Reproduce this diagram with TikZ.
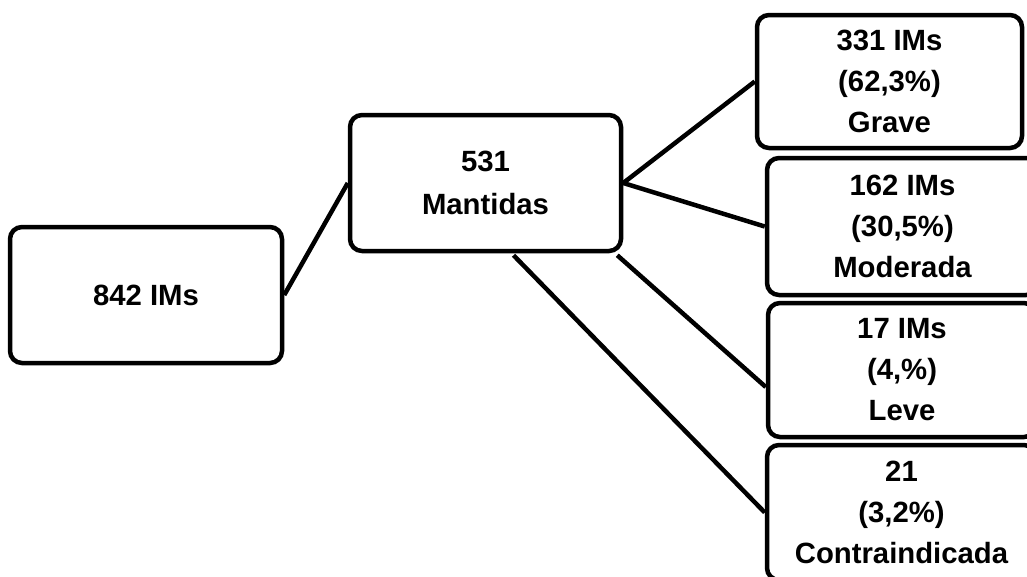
\documentclass[tikz,border=0pt]{standalone}
\usepackage{fontspec}
\setmainfont{Liberation Sans}
\begin{document}
\begin{tikzpicture}[x=1pt,y=-1pt,
  box/.style={draw=black, line width=4.5pt, rounded corners=12pt, fill=white,
    inner sep=0pt, align=center, font=\bfseries\fontsize{29.3}{41}\selectfont},
  link/.style={draw=black, line width=4.5pt}]
\useasboundingbox (0,0) rectangle (1027,576);
\node[box, minimum width=272pt, minimum height=136pt] (A) at (146,295) {842 IMs};
\node[box, minimum width=271pt, minimum height=136pt,
      font=\bfseries\fontsize{29.3}{43}\selectfont] (B) at (485.5,183) {531\\Mantidas};
\node[box, minimum width=265pt, minimum height=133pt] (C) at (889.5,81.5) {331 IMs\\(62,3\%)\\Grave};
\node[box, minimum width=271pt, minimum height=137pt] (D) at (902.5,226.5) {162 IMs\\(30,5\%)\\Moderada};
\node[box, minimum width=268pt, minimum height=134pt] (E) at (902,370) {17 IMs\\(4,\%)\\Leve};
\node[box, minimum width=269pt, minimum height=135pt] (F) at (901.5,512.5) {21\\(3,2\%)\\Contraindicada};
\draw[link] (A.east) -- (B.west);
\draw[link] (B.east) -- (C.west);
\draw[link] (B.east) -- (D.west);
\draw[link] ([xshift=-6pt,yshift=-2pt]B.south east) -- ([yshift=-17pt]E.west);
\draw[link] ([xshift=28pt,yshift=-2pt]B.south) -- (F.west);
\end{tikzpicture}
\end{document}
